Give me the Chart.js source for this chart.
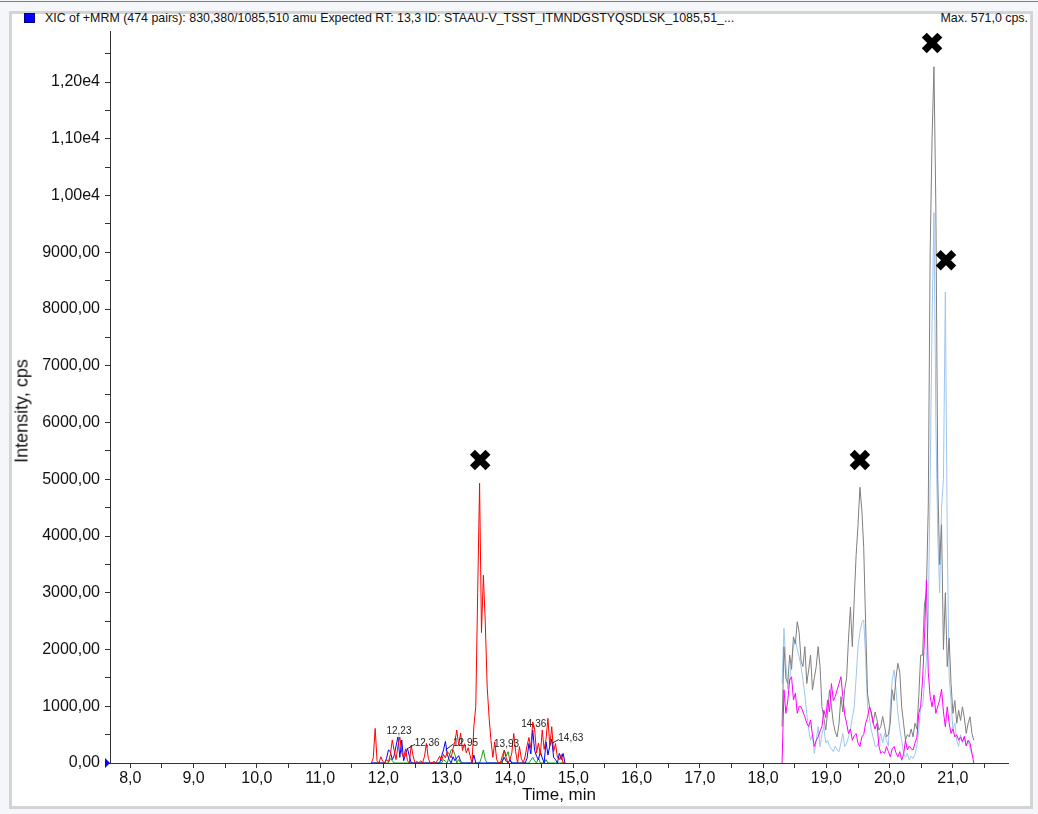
<!DOCTYPE html>
<html>
<head>
<meta charset="utf-8">
<title>XIC chromatogram</title>
<script src="https://cdn.jsdelivr.net/npm/chart.js@4.4.1/dist/chart.umd.min.js"></script>
<style>
  html, body { margin: 0; padding: 0; }
  body {
    width: 1038px; height: 814px; position: relative; overflow: hidden;
    background: #f4f6f9;
    font-family: "Liberation Sans", Arial, sans-serif;
  }
  .topline { position: absolute; left: 0; top: 1px; width: 1038px; height: 1px; background: #7d7d7d; }
  .frame {
    position: absolute; left: 9px; top: 11px; width: 1018px; height: 792px;
    border: 3px solid #d4d4d4; background: #fff;
  }
  #chart { position: absolute; left: 0; top: 0; }
  .hdr { position: absolute; top: 11px; font-size: 12.4px; line-height: 14px; color: #111; white-space: nowrap; }
  .swatch {
    position: absolute; left: 24px; top: 13px; width: 9px; height: 8px;
    background: #0000ff; border: 1px solid #00008a;
  }
  .ytitle {
    position: absolute; left: 22px; top: 411px; font-size: 18px; color: #111; white-space: nowrap;
    transform: translate(-50%, -50%) rotate(-90deg);
  }
</style>
</head>
<body>
<div class="topline"></div>
<div class="frame"></div>
<div class="swatch"></div>
<div class="hdr" style="left:45px">XIC of +MRM (474 pairs): 830,380/1085,510 amu Expected RT: 13,3 ID: STAAU-V_TSST_ITMNDGSTYQSDLSK_1085,51_...</div>
<div class="hdr" style="right:10px">Max. 571,0 cps.</div>
<canvas id="chart" width="1038" height="814"></canvas>
<div class="ytitle">Intensity, cps</div>

<script>
/* ── Data: early window (12–15 min) ────────────────────────── */
const timesA = [
  11.81, 11.84, 11.87, 11.90, 11.93, 11.96, 11.99, 12.02, 12.05, 12.08,
  12.11, 12.14, 12.17, 12.20, 12.23, 12.26, 12.29, 12.32, 12.35, 12.38,
  12.41, 12.44, 12.47, 12.50, 12.53, 12.56, 12.59, 12.62, 12.65, 12.68,
  12.71, 12.74, 12.77, 12.80, 12.83, 12.86, 12.89, 12.92, 12.95, 12.98,
  13.01, 13.04, 13.07, 13.10, 13.13, 13.16, 13.19, 13.22, 13.25, 13.28,
  13.31, 13.34, 13.37, 13.40, 13.43, 13.46, 13.49, 13.52, 13.55, 13.58,
  13.61, 13.64, 13.67, 13.70, 13.73, 13.76, 13.79, 13.82, 13.85, 13.88,
  13.91, 13.94, 13.97, 14.00, 14.03, 14.06, 14.09, 14.12, 14.15, 14.18,
  14.21, 14.24, 14.27, 14.30, 14.33, 14.36, 14.39, 14.42, 14.45, 14.48,
  14.51, 14.54, 14.57, 14.60, 14.63, 14.66, 14.69, 14.72, 14.75, 14.78,
  14.81, 14.84, 14.87,
];
const redA = [
  0, 90, 610, 40, 0, 110, 30, 0, 60, 20,
  150, 405, 220, 60, 300, 460, 180, 90, 250, 40,
  0, 316, 120, 0, 30, 0, 40, 0, 120, 346,
  80, 0, 0, 30, 0, 60, 120, 40, 150, 90,
  200, 160, 90, 250, 380, 580, 310, 530, 220, 340,
  180, 270, 130, 0, 650, 1000, 3000, 4930, 2300, 3310,
  2480, 1340, 810, 400, 100, 375, 60, 0, 0, 130,
  220, 90, 0, 60, 180, 520, 200, 0, 290, 80,
  0, 120, 300, 450, 260, 725, 600, 180, 350, 140,
  580, 240, 420, 787, 300, 640, 200, 345, 100, 60,
  150, 0, 0,
];
const blueA = [
  0, 0, 0, 0, 0, 0, 0, 0, 80, 230,
  200, 60, 130, 300, 460, 100, 405, 40, 150, 260,
  120, 0, 0, 0, 0, 0, 0, 0, 0, 0,
  0, 0, 0, 0, 0, 0, 0, 120, 230, 380,
  150, 60, 0, 110, 40, 90, 130, 30, 0, 0,
  0, 0, 0, 0, 140, 0, 0, 0, 0, 0,
  0, 0, 0, 0, 0, 0, 0, 0, 0, 40,
  100, 30, 0, 60, 0, 0, 0, 0, 0, 0,
  0, 0, 80, 345, 160, 580, 220, 120, 60, 200,
  90, 0, 375, 140, 300, 420, 100, 60, 0, 170,
  60, 170, 0,
];
const greenA = [
  0, 0, 0, 0, 0, 0, 0, 0, 0, 0,
  80, 40, 0, 0, 0, 0, 0, 0, 0, 0,
  0, 0, 0, 0, 0, 0, 0, 0, 0, 0,
  0, 0, 0, 0, 0, 0, 0, 0, 60, 30,
  0, 120, 230, 230, 150, 0, 60, 0, 0, 0,
  0, 0, 0, 0, 0, 0, 0, 0, 100, 230,
  60, 0, 0, 0, 0, 0, 0, 0, 0, 0,
  230, 120, 200, 40, 0, 0, 0, 0, 0, 0,
  0, 0, 0, 0, 50, 100, 40, 0, 90, 0,
  0, 0, 60, 0, 0, 0, 0, 0, 0, 0,
  0, 0, 0,
];

/* ── Data: late window (18.3–21.3 min) ─────────────────────── */
const timesB = [
  18.30, 18.33, 18.36, 18.39, 18.42, 18.45, 18.48, 18.51, 18.54, 18.57,
  18.60, 18.63, 18.66, 18.69, 18.72, 18.75, 18.78, 18.81, 18.84, 18.87,
  18.90, 18.93, 18.96, 18.99, 19.02, 19.05, 19.08, 19.11, 19.14, 19.17,
  19.20, 19.23, 19.26, 19.29, 19.32, 19.35, 19.38, 19.41, 19.44, 19.47,
  19.50, 19.53, 19.56, 19.59, 19.62, 19.65, 19.68, 19.71, 19.74, 19.77,
  19.80, 19.83, 19.86, 19.89, 19.92, 19.95, 19.98, 20.01, 20.04, 20.07,
  20.10, 20.13, 20.16, 20.19, 20.22, 20.25, 20.28, 20.31, 20.34, 20.37,
  20.40, 20.43, 20.46, 20.49, 20.52, 20.55, 20.58, 20.61, 20.64, 20.67,
  20.70, 20.73, 20.76, 20.79, 20.82, 20.85, 20.88, 20.91, 20.94, 20.97,
  21.00, 21.03, 21.06, 21.09, 21.12, 21.15, 21.18, 21.21, 21.24, 21.27,
  21.30, 21.33,
];
const grayB = [
  640, 2050, 1500, 1400, 1900, 1650, 2225, 2100, 2490, 2300,
  1800, 1700, 2050, 1400, 1640, 1900, 1290, 1500, 1700, 2050,
  1700, 990, 800, 580, 900, 1290, 1000, 700, 550, 460,
  700, 1170, 900, 1300, 1500, 2200, 2750, 2050, 2900, 3660,
  4200, 4860, 4460, 3800, 2460, 1230, 1000, 875, 700, 900,
  760, 580, 640, 820, 640, 460, 500, 700, 1290, 1100,
  1500, 1756, 1600, 990, 700, 400, 500, 460, 600, 460,
  700, 600, 1170, 1900, 1900, 2800, 3000, 4500, 9000, 11000,
  12270, 9800, 5000, 3500, 4200, 2000, 3000, 1700, 2200, 1400,
  875, 1100, 700, 930, 750, 990, 800, 520, 700, 815,
  520, 400,
];
const lightBlueB = [
  1400, 2373, 1760, 1300, 1460, 1800, 2050, 2170, 2000, 1870,
  1700, 1460, 1200, 875, 600, 400, 500, 170, 400, 640,
  288, 500, 640, 350, 400, 288, 250, 200, 300, 230,
  200, 350, 520, 290, 350, 460, 600, 800, 990, 1500,
  2050, 2300, 2480, 2520, 1870, 990, 800, 580, 450, 300,
  290, 400, 520, 350, 520, 400, 300, 1000, 1460, 1640,
  1300, 875, 600, 400, 170, 100, 170, 50, 120, 80,
  150, 300, 580, 990, 1000, 1400, 1800, 2500, 5000, 7800,
  9700, 6000, 4000, 3000, 4500, 5000, 8300, 4000, 1500, 1100,
  580, 700, 400, 290, 500, 350, 460, 300, 400, 250,
  170, 100,
];
const magentaB = [
  0, 1290, 875, 1100, 1460, 1520, 1110, 1230, 875, 1000,
  990, 900, 815, 700, 640, 760, 500, 290, 400, 460,
  560, 640, 930, 800, 1110, 900, 1400, 1100, 1170, 1290,
  1400, 1520, 1170, 850, 700, 520, 600, 400, 480, 520,
  350, 290, 460, 500, 700, 800, 990, 900, 700, 600,
  700, 300, 170, 200, 170, 290, 200, 110, 250, 290,
  180, 110, 200, 50, 150, 400, 230, 300, 250, 230,
  350, 450, 875, 1000, 1460, 2200, 3220, 1600, 1170, 990,
  1200, 875, 1000, 1110, 1300, 900, 640, 990, 700, 520,
  600, 460, 500, 400, 460, 380, 470, 300, 400, 350,
  170, 0,
];

/* ── Peak markers and apex labels ──────────────────────────── */
const markerTimes   = [13.53, 19.53, 20.67, 20.89];
const markerHeights = [5340, 5340, 12690, 8860];

const peakTimes   = [12.23, 12.36, 12.95, 13.93, 14.36, 14.63];
const peakHeights = [460, 260, 230, 230, 580, 345];

/* ── Axes: range and ticks ─────────────────────────────────── */
const X_MIN = 7.68, X_MAX = 21.87;
const Y_MIN = 0,    Y_MAX = 12900;

const xMajorTicks = [8, 9, 10, 11, 12, 13, 14, 15, 16, 17, 18, 19, 20, 21];
const xMinorTicks = [8.5, 9.5, 10.5, 11.5, 12.5, 13.5, 14.5, 15.5, 16.5, 17.5, 18.5, 19.5, 20.5, 21.5];
const xTickLabels = ['8,0', '9,0', '10,0', '11,0', '12,0', '13,0', '14,0',
                     '15,0', '16,0', '17,0', '18,0', '19,0', '20,0', '21,0'];

const yMajorTicks = [0, 1000, 2000, 3000, 4000, 5000, 6000, 7000, 8000, 9000, 10000, 11000, 12000];
const yMinorTicks = [500, 1500, 2500, 3500, 4500, 5500, 6500, 7500, 8500, 9500, 10500, 11500, 12500];
const yTickLabels = ['0,00', '1000,00', '2000,00', '3000,00', '4000,00', '5000,00', '6000,00',
                     '7000,00', '8000,00', '9000,00', '1,00e4', '1,10e4', '1,20e4'];

const FONT = '"Liberation Sans", Arial, sans-serif';

const toPoints = (times, vals) => times.map((t, i) => ({ x: t, y: vals[i] }));
const comma = (v, d) => v.toFixed(d).replace('.', ',');

function trace(label, times, vals, color) {
  return {
    label,
    data: toPoints(times, vals),
    borderColor: color,
    borderWidth: 1,
    pointRadius: 0,
    tension: 0,
    fill: false,
  };
}

/* major + minor tick positions, labels only on the majors */
function setTicks(major, minor) {
  return scale => {
    scale.ticks = major.concat(minor).sort((a, b) => a - b).map(v => ({ value: v }));
  };
}
function labelFor(major, labels) {
  return v => {
    const i = major.indexOf(v);
    return i < 0 ? '' : labels[i];
  };
}

/* label offsets in px from each apex; the ones pushed right get a leader line */
const LABEL_OFFSET = [[1, -6], [21, -5], [22, -7], [1, -6], [1, -6], [21, -5]];

const peakLabelPlugin = {
  id: 'peakLabels',
  afterDatasetsDraw(chart) {
    const { ctx, scales: { x, y } } = chart;
    ctx.save();
    ctx.font = '10px ' + FONT;
    ctx.fillStyle = '#222';
    ctx.strokeStyle = '#222';
    ctx.lineWidth = 1;
    ctx.textAlign = 'center';
    ctx.textBaseline = 'middle';
    peakTimes.forEach((t, i) => {
      const px = x.getPixelForValue(t);
      const py = y.getPixelForValue(peakHeights[i]);
      const [dx, dy] = LABEL_OFFSET[i];
      if (dx > 8) {
        ctx.beginPath();
        ctx.moveTo(px + 2, py);
        ctx.lineTo(px + dx - 12, py + dy + 1);
        ctx.stroke();
      }
      ctx.fillText(comma(t, 2), px + dx, py + dy);
    });
    ctx.restore();
  },
};

/* small blue arrow at the origin, as drawn by the acquisition software */
const originArrowPlugin = {
  id: 'originArrow',
  afterDraw(chart) {
    const { ctx, chartArea, scales: { y } } = chart;
    const ox = chartArea.left, oy = y.getPixelForValue(0);
    ctx.save();
    ctx.fillStyle = '#0000ff';
    ctx.beginPath();
    ctx.moveTo(ox, oy);
    ctx.lineTo(ox - 5, oy - 5);
    ctx.lineTo(ox - 5, oy + 5);
    ctx.closePath();
    ctx.fill();
    ctx.restore();
  },
};

new Chart(document.getElementById('chart'), {
  type: 'line',
  data: {
    datasets: [
      {
        label: 'peaks',
        data: toPoints(markerTimes, markerHeights),
        showLine: false,
        pointStyle: 'crossRot',
        pointRadius: 11,
        pointBorderWidth: 7,
        pointBorderColor: '#000',
        pointBackgroundColor: '#000',
        clip: false,
      },
      trace('red',        timesA, redA,       '#ff0000'),
      trace('magenta',    timesB, magentaB,   '#ff00ff'),
      trace('blue',       timesA, blueA,      '#0000ff'),
      trace('green',      timesA, greenA,     '#1a9a1a'),
      trace('gray',       timesB, grayB,      '#7f7f7f'),
      trace('light blue', timesB, lightBlueB, '#9fc5ee'),
    ],
  },
  options: {
    responsive: false,
    animation: false,
    events: [],
    layout: { padding: { left: 10, right: 30, top: 31, bottom: 5 } },
    plugins: {
      legend: { display: false },
      tooltip: { enabled: false },
    },
    scales: {
      x: {
        type: 'linear',
        min: X_MIN,
        max: X_MAX,
        border: { color: '#333', width: 1, z: 1 },
        grid: { drawOnChartArea: false, drawTicks: true, tickLength: 5, color: '#333' },
        afterBuildTicks: setTicks(xMajorTicks, xMinorTicks),
        ticks: {
          autoSkip: false,
          maxRotation: 0,
          padding: 1,
          color: '#111',
          font: { family: FONT, size: 16 },
          callback: labelFor(xMajorTicks, xTickLabels),
        },
        title: {
          display: true,
          text: 'Time, min',
          color: '#111',
          font: { family: FONT, size: 17 },
          padding: { top: 0, bottom: 3 },
        },
        afterFit: s => { s.height = 46; },
      },
      y: {
        type: 'linear',
        min: Y_MIN,
        max: Y_MAX,
        border: { color: '#333', width: 1, z: 1 },
        grid: { drawOnChartArea: false, drawTicks: true, tickLength: 5, color: '#333' },
        afterBuildTicks: setTicks(yMajorTicks, yMinorTicks),
        ticks: {
          autoSkip: false,
          padding: 5,
          color: '#111',
          font: { family: FONT, size: 16 },
          callback: labelFor(yMajorTicks, yTickLabels),
        },
        afterFit: s => { s.width = 100; },
      },
    },
  },
  plugins: [peakLabelPlugin, originArrowPlugin],
});
</script>
</body>
</html>
